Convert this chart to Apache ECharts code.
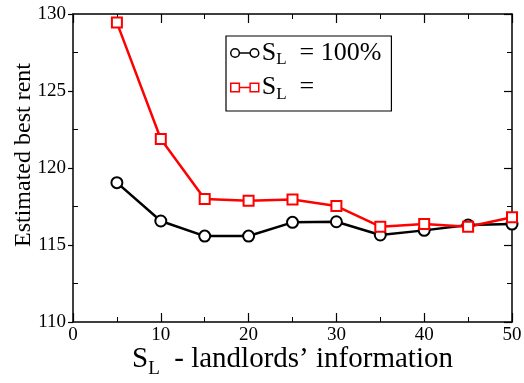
<!DOCTYPE html>
<html>
<head>
<meta charset="utf-8">
<script src="https://cdn.jsdelivr.net/npm/echarts@6/dist/echarts.min.js"></script>
<style>
  html, body { margin: 0; padding: 0; background: #fff; }
  #chart { width: 524px; height: 383px; }
</style>
</head>
<body>
<div id="chart"></div>
<script>
var xValues = [5, 10, 15, 20, 25, 30, 35, 40, 45, 50];
var rentFull = [119.05, 116.56, 115.58, 115.58, 116.47, 116.51, 115.65, 115.95, 116.3, 116.36];
var rentOther = [129.44, 121.88, 117.99, 117.88, 117.95, 117.53, 116.19, 116.36, 116.19, 116.8];
var seriesNames = ['full', 'other'];
var legendRest = ['  = 100%', '  ='];
var yMinorTicks = [112.5, 117.5, 122.5, 127.5];

var serif = '"Liberation Serif", "DejaVu Serif", serif';

function pairs(xs, ys) {
    return xs.map(function(x, i) { return [x, ys[i]]; });
}

var circleIcon = 'path://M1,5 A4,4 0 1,0 9,5 A4,4 0 1,0 1,5 Z M9,5 L19,5 M19,5 A4,4 0 1,0 27,5 A4,4 0 1,0 19,5 Z';
var squareIcon = 'path://M1,1 L9,1 L9,9 L1,9 Z M9,5 L19,5 M19,1 L27,1 L27,9 L19,9 Z';

var lineBase = { show: true, onZero: false, lineStyle: { color: '#000', width: 1.5 } };
var labelBase = { color: '#000', fontFamily: serif, fontSize: 19 };
function ticks(inside, len) {
    return { show: true, inside: inside, length: len, lineStyle: { color: '#000', width: 1.2 } };
}
function minor(len) {
    return { show: true, splitNumber: 2, length: len, lineStyle: { color: '#000', width: 1 } };
}

var chart = echarts.init(document.getElementById('chart'));
chart.setOption({
    animation: false,
    backgroundColor: '#fff',
    grid: { left: 73, right: 12, top: 14, bottom: 61, containLabel: false, outerBoundsMode: 'none' },
    legend: {
        left: 226, top: 36,
        orient: 'vertical',
        backgroundColor: '#fff',
        borderColor: '#000',
        borderWidth: 1.2,
        borderRadius: 0,
        padding: [4, 10, 8, 4],
        itemGap: 6,
        itemWidth: 28,
        itemHeight: 10,
        data: [
            { name: 'full', icon: circleIcon, itemStyle: { color: 'transparent', borderColor: '#000', borderWidth: 1.5 } },
            { name: 'other', icon: squareIcon, itemStyle: { color: 'transparent', borderColor: '#f00', borderWidth: 1.5 } }
        ],
        formatter: function(name) {
            var i = seriesNames.indexOf(name);
            return '{s|S}{sub|L}{t|' + legendRest[i] + '}';
        },
        textStyle: {
            padding: [0, 0, 0, -2],
            rich: {
                s: { fontFamily: serif, fontSize: 26, color: '#000', lineHeight: 30 },
                sub: { fontFamily: serif, fontSize: 17, color: '#000', verticalAlign: 'bottom', padding: [14, 0, 0, 0] },
                t: { fontFamily: serif, fontSize: 26, color: '#000' }
            }
        }
    },
    xAxis: [{
        type: 'value', min: 0, max: 50, interval: 10,
        axisLine: lineBase, axisTick: ticks(true, 9), minorTick: minor(5),
        splitLine: { show: false },
        axisLabel: Object.assign({ margin: 4 }, labelBase),
        name: '{s|S}{sub|L}{t|  - landlords\u2019 information}',
        nameLocation: 'middle', nameGap: 18, nameMoveOverlap: false,
        nameTextStyle: {
            verticalAlign: 'top',
            rich: {
                s: { fontFamily: serif, fontSize: 29, color: '#000' },
                sub: { fontFamily: serif, fontSize: 19, color: '#000', padding: [20, 0, 0, 0] },
                t: { fontFamily: serif, fontSize: 29, color: '#000' }
            }
        }
    }, {
        type: 'value', min: 0, max: 50, interval: 10, position: 'top',
        axisLine: lineBase, axisTick: ticks(true, 9), minorTick: minor(5),
        splitLine: { show: false }, axisLabel: { show: false }
    }],
    yAxis: [{
        type: 'value', min: 110, max: 130, interval: 5,
        axisLine: lineBase, axisTick: ticks(false, 5),
        splitLine: { show: false },
        axisLabel: Object.assign({ margin: 7 }, labelBase),
        name: 'Estimated best rent',
        nameLocation: 'middle', nameGap: 37, nameRotate: 90, nameMoveOverlap: false,
        nameTextStyle: { fontFamily: serif, fontSize: 24, color: '#000', padding: [0, 0, 0, 26] }
    }, {
        type: 'value', min: 110, max: 130, position: 'left', offset: 0,
        axisLine: { show: false },
        axisTick: { show: true, inside: true, length: 5, customValues: yMinorTicks, lineStyle: { color: '#000', width: 1 } },
        splitLine: { show: false }, axisLabel: { show: false }
    }, {
        type: 'value', min: 110, max: 130, interval: 5, position: 'right',
        axisLine: lineBase, axisTick: ticks(true, 8), minorTick: minor(5),
        splitLine: { show: false }, axisLabel: { show: false }
    }],
    series: [{
        name: 'full', type: 'line',
        data: pairs(xValues, rentFull),
        symbol: 'emptyCircle', symbolSize: 11,
        lineStyle: { color: '#000', width: 2.5 },
        itemStyle: { color: '#000', borderColor: '#000', borderWidth: 1 }
    }, {
        name: 'other', type: 'line',
        data: pairs(xValues, rentOther),
        symbol: 'emptyRect', symbolSize: 10,
        lineStyle: { color: '#f00', width: 2.5 },
        itemStyle: { color: '#f00', borderColor: '#f00', borderWidth: 1 }
    }]
});
</script>
</body>
</html>
